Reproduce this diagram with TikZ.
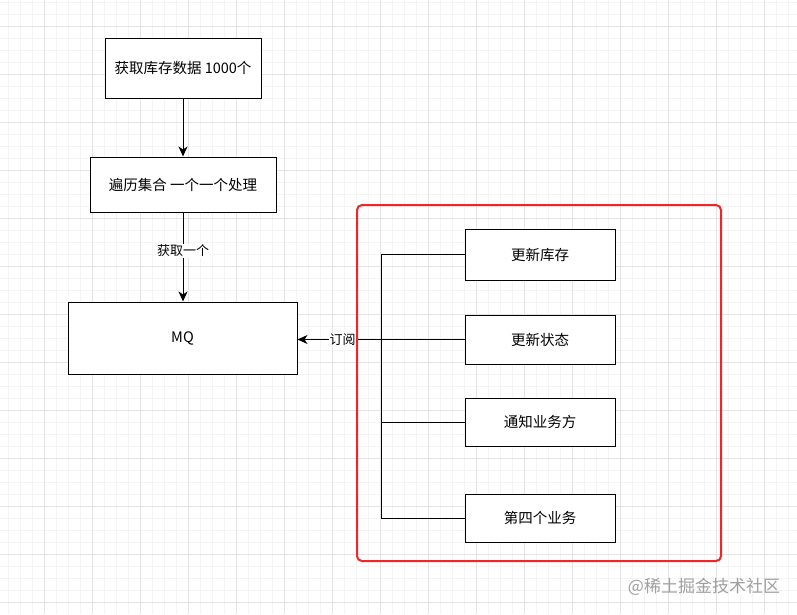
\documentclass[tikz,border=0pt]{standalone}
\usepackage{fontspec}
\setmainfont{Noto Sans CJK SC}
\usetikzlibrary{arrows.meta, positioning, calc}
\definecolor{cGrid}{RGB}{244,244,244}
\definecolor{cGridMajor}{RGB}{228,228,228}
\definecolor{cRed}{RGB}{240,38,38}
\definecolor{cMark}{RGB}{160,160,160}

\begin{document}
\begin{tikzpicture}[x=1pt, y=-1pt,
    box/.style={draw=black, line width=1pt, fill=white, inner sep=0pt, font=\fontsize{14.5}{16}\selectfont},
    lbl/.style={fill=white, inner sep=1pt, font=\fontsize{13}{15}\selectfont},
    link/.style={-{Stealth[length=10pt, width=9pt, inset=3pt]}, line width=1pt}]
    \useasboundingbox (0,0) rectangle (797,614);
    \fill[white] (0,0) rectangle (797,614);
    % background grid
    \foreach \gx in {8,20,...,796} \draw[cGrid, line width=0.8pt] (\gx,0) -- (\gx,614);
    \foreach \gy in {2,14,...,613} \draw[cGrid, line width=0.8pt] (0,\gy) -- (797,\gy);
    \foreach \gx in {44,92,...,796} \draw[cGridMajor, line width=0.8pt] (\gx,0) -- (\gx,614);
    \foreach \gy in {26,74,...,613} \draw[cGridMajor, line width=0.8pt] (0,\gy) -- (797,\gy);

    % left column
    \node[box, minimum width=156pt, minimum height=60pt] (load) at (183,68) {获取库存数据 1000个};
    \node[box, minimum width=186pt, minimum height=55pt] (loop) at (183,184.5) {遍历集合 一个一个处理};
    \node[box, minimum width=229pt, minimum height=72pt] (mq) at (182.5,338) {MQ};
    \draw[link] (load) -- (loop);
    \draw[link] (loop) -- node[lbl, pos=0.43] {获取一个} (loop |- mq.north);

    % subscribers
    \node[box, minimum width=150pt, minimum height=51pt] (stock) at (540,254.5) {更新库存};
    \node[box, minimum width=150pt, minimum height=49pt] (state) at (540,339.5) {更新状态};
    \node[box, minimum width=150pt, minimum height=48pt] (notify) at (540,422) {通知业务方};
    \node[box, minimum width=150pt, minimum height=48pt] (fourth) at (540,518) {第四个业务};
    \coordinate (trunk) at (381,0);
    \draw[line width=1pt] (stock.west) -- (stock.west -| trunk) -- (fourth.west -| trunk) -- (fourth.west);
    \draw[line width=1pt] (notify.west) -- (notify.west -| trunk);
    \draw[link] (state.west) -- node[lbl, pos=0.73] {订阅} (state.west -| mq.east);

    % group frame
    \draw[cRed, line width=2pt, rounded corners=5pt] (357,205) rectangle (721,561);

    \node[text=cMark, font=\fontsize{17}{19}\selectfont] (mark) at (704,587) {@稀土掘金技术社区};
\end{tikzpicture}
\end{document}
